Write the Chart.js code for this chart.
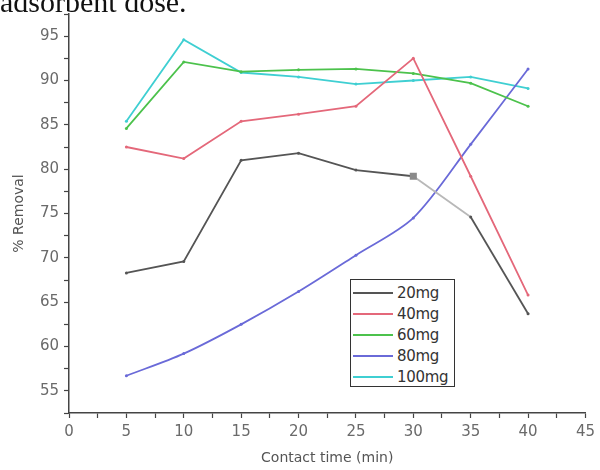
<!DOCTYPE html>
<html>
<head>
<meta charset="utf-8">
<script src="https://cdn.jsdelivr.net/npm/chart.js@4/dist/chart.umd.min.js"></script>
<style>
  html, body { margin: 0; padding: 0; background: #fff; }
  #wrap { position: relative; width: 600px; height: 470px; overflow: hidden; }
  #c { position: absolute; left: 0; top: 0; }
  #caption { position: absolute; left: 0; top: -13px; font: 30px "Liberation Serif", "Times New Roman", serif; color: #111; line-height: 30px; white-space: nowrap; }
  #legend { position: absolute; left: 350px; top: 279px; width: 103px; height: 106px; border: 1.5px solid #333; background: #fff; box-sizing: content-box; }
  .row { position: absolute; left: 0; height: 21px; width: 103px; }
  .sw { position: absolute; left: 2px; top: 10px; width: 40px; height: 0; border-top: 2px solid; }
  .lb { position: absolute; left: 46px; top: 1px; font: 15px "DejaVu Sans", sans-serif; color: #333; line-height: 20px; letter-spacing: -0.3px; }
</style>
</head>
<body>
<div id="wrap">
  <canvas id="c" width="600" height="470"></canvas>
  <div id="caption">adsorbent dose.</div>
  <div id="legend"></div>
</div>
<script>
const times = [5, 10, 15, 20, 25, 30, 35, 40];
const seriesNames = ['20mg', '40mg', '60mg', '80mg', '100mg'];
const mg20  = [68.3, 69.6, 81.0, 81.8, 79.9, 79.2, 74.6, 63.7];
const mg40  = [82.5, 81.2, 85.4, 86.2, 87.1, 92.5, 79.2, 65.8];
const mg60  = [84.6, 92.1, 91.0, 91.2, 91.3, 90.8, 89.7, 87.1];
const mg80  = [56.7, 59.2, 62.5, 66.2, 70.3, 74.5, 82.8, 91.3];
const mg100 = [85.4, 94.6, 90.9, 90.4, 89.6, 90.0, 90.4, 89.1];
const xTicks = [0, 5, 10, 15, 20, 25, 30, 35, 40, 45];
const yTicks = [55, 60, 65, 70, 75, 80, 85, 90, 95];

const colors = ['#555555', '#e4687a', '#4cc24c', '#6a6ad8', '#3fcfd2'];
const allData = [mg20, mg40, mg60, mg80, mg100];

const datasets = allData.map((vals, i) => ({
  label: seriesNames[i],
  data: vals.map((v, j) => ({ x: times[j], y: v })),
  borderColor: colors[i],
  backgroundColor: colors[i],
  borderWidth: 1.8,
  pointRadius: 1.5,
  pointHoverRadius: 1.5,
  pointBorderWidth: 0,
  tension: i === 3 ? 0.3 : 0,
  fill: false
}));
// 20mg: square marker at 30 min and faded segment 30-35
datasets[0].pointStyle = times.map(t => t === 30 ? 'rect' : 'circle');
datasets[0].pointRadius = times.map(t => t === 30 ? 5 : 1.5);
datasets[0].backgroundColor = times.map(t => t === 30 ? '#8a8a8a' : '#555555');
datasets[0].segment = { borderColor: ctx => (ctx.p0DataIndex === 5 ? '#b8b8b8' : undefined) };

const tickFont = { family: '"DejaVu Sans", sans-serif', size: 15 };
const titleFont = { family: '"DejaVu Sans", sans-serif', size: 14 };

new Chart(document.getElementById('c'), {
  type: 'line',
  data: { datasets },
  options: {
    responsive: false,
    animation: false,
    events: [],
    layout: { padding: { top: 13, right: 8, left: 0, bottom: 0 } },
    plugins: { legend: { display: false }, tooltip: { enabled: false } },
    scales: {
      x: {
        type: 'linear', min: 0, max: 45,
        afterFit: s => { s.height = 57; },
        ticks: {
          stepSize: 2.5, autoSkip: false, maxRotation: 0, padding: 5,
          color: '#6a6a6a', font: tickFont,
          callback: v => (xTicks.includes(v) ? String(v) : '')
        },
        grid: { drawOnChartArea: false, drawTicks: true, tickLength: 5, tickColor: '#444', tickWidth: 1.2 },
        border: { display: true, color: '#444', width: 1.5 },
        title: { display: true, text: 'Contact time (min)', color: '#555', font: titleFont, padding: 3 }
      },
      y: {
        type: 'linear', min: 52.5, max: 97.5,
        afterFit: s => { s.width = 69; },
        ticks: {
          stepSize: 2.5, autoSkip: false, padding: 5,
          color: '#6a6a6a', font: tickFont,
          callback: v => (yTicks.includes(v) ? String(v) : '')
        },
        grid: { drawOnChartArea: false, drawTicks: true, tickLength: 5, tickColor: '#444', tickWidth: 1.2 },
        border: { display: true, color: '#444', width: 1.5 },
        title: { display: true, text: '% Removal', color: '#555', font: titleFont, padding: 11 }
      }
    }
  }
});

// legend built from series names and colours
const leg = document.getElementById('legend');
seriesNames.forEach((name, i) => {
  const r = document.createElement('div');
  r.className = 'row';
  r.style.top = (2 + i * 21) + 'px';
  r.innerHTML = '<div class="sw" style="border-top-color:' + colors[i] + '"></div><div class="lb">' + name + '</div>';
  leg.appendChild(r);
});
</script>
</body>
</html>
